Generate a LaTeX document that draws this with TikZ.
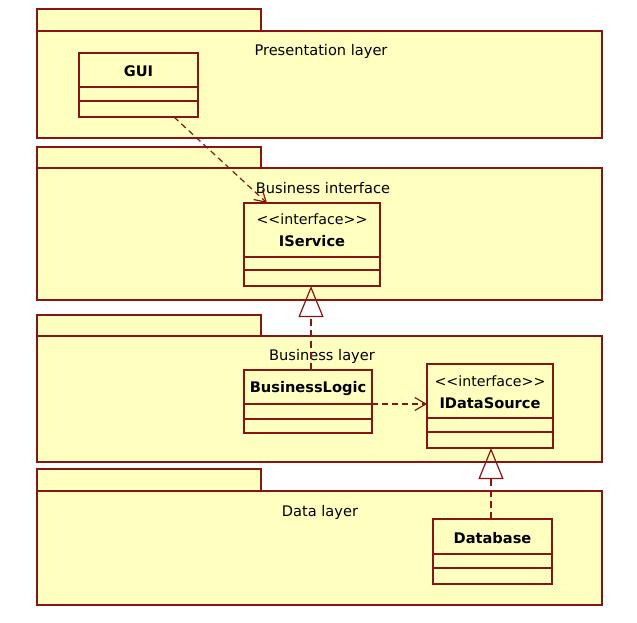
\documentclass[tikz,border=0pt]{standalone}
\usepackage{fontspec}
\setmainfont{DejaVu Sans}
\usetikzlibrary{arrows.meta}
\definecolor{umlline}{RGB}{136,20,20}
\definecolor{umlfill}{RGB}{255,255,192}
\begin{document}
\begin{tikzpicture}[x=1pt,y=-1pt,
  pkgpart/.style={draw=umlline, fill=umlfill, line width=1.2pt, inner sep=0pt, outer sep=0pt, anchor=north west},
  clsbox/.style={draw=umlline, fill=umlfill, line width=1.2pt, inner sep=0pt, outer sep=0pt, anchor=north west},
  sepline/.style={draw=umlline, line width=1.2pt},
  pkglabel/.style={font=\fontsize{14.6}{17}\selectfont, inner sep=0pt},
  clsname/.style={font=\fontsize{14.6}{17}\selectfont\bfseries, inner sep=0pt},
  stereo/.style={font=\fontsize{14.2}{17}\selectfont, inner sep=0pt},
  depend/.style={draw=umlline, line width=1.2pt, dash pattern=on 6pt off 4pt, -{Straight Barb[length=11pt,width=13pt,line width=1.2pt]}},
  realize/.style={draw=umlline, line width=1.2pt, dash pattern=on 7pt off 4pt, -{Triangle[open,length=31pt,width=25pt,line width=1.2pt]}}
]
\useasboundingbox (0,0) rectangle (637,622);
% packages
\node[pkgpart, minimum width=224pt, minimum height=22pt] (t1) at (37,9) {};
\node[pkgpart, minimum width=565pt, minimum height=107pt] (p1) at (37,31) {};
\node[pkgpart, minimum width=224pt, minimum height=21pt] (t2) at (37,147) {};
\node[pkgpart, minimum width=565pt, minimum height=132pt] (p2) at (37,168) {};
\node[pkgpart, minimum width=224pt, minimum height=21pt] (t3) at (37,315) {};
\node[pkgpart, minimum width=565pt, minimum height=126pt] (p3) at (37,336) {};
\node[pkgpart, minimum width=224pt, minimum height=22pt] (t4) at (37,469) {};
\node[pkgpart, minimum width=565pt, minimum height=114pt] (p4) at (37,491) {};
\node[pkglabel] (l1) at (321,51) {Presentation layer};
\node[pkglabel] (l2) at (323,188) {Business interface};
\node[pkglabel] (l3) at (322,356) {Business layer};
\node[pkglabel] (l4) at (320,512) {Data layer};
% classes
\node[clsbox, minimum width=119pt, minimum height=64pt] (gui) at (79,53) {};
\draw[sepline] (79,87) -- (198,87);
\draw[sepline] (79,101) -- (198,101);
\node[clsname] (guin) at (138.5,71) {GUI};

\node[clsbox, minimum width=136pt, minimum height=83pt] (isvc) at (244,203) {};
\draw[sepline] (244,257) -- (380,257);
\draw[sepline] (244,270) -- (380,270);
\node[stereo] (isvcs) at (312,219) {<{}<interface>{}>};
\node[clsname] (isvcn) at (312,241) {IService};

\node[clsbox, minimum width=128pt, minimum height=63pt] (bl) at (244,370) {};
\draw[sepline] (244,404) -- (372,404);
\draw[sepline] (244,419) -- (372,419);
\node[clsname] (bln) at (308,389) {BusinessLogic};

\node[clsbox, minimum width=126pt, minimum height=84pt] (ids) at (427,364) {};
\draw[sepline] (427,418) -- (553,418);
\draw[sepline] (427,432) -- (553,432);
\node[stereo] (idss) at (490,381) {<{}<interface>{}>};
\node[clsname] (idsn) at (490,403) {IDataSource};

\node[clsbox, minimum width=119pt, minimum height=65pt] (db) at (433,519) {};
\draw[sepline] (433,554) -- (552,554);
\draw[sepline] (433,568) -- (552,568);
\node[clsname] (dbn) at (492.5,538) {Database};
% connectors
\coordinate (guiout) at (174,117);
\coordinate (isvcin) at (267,203);
\draw[depend] (guiout) -- (isvcin);
\draw[realize] (bl.north -| 311,0) -- (isvc.south -| 311,0);
\draw[depend] (bl.east |- 0,404) -- (ids.west |- 0,404);
\draw[realize] (db.north -| 491,0) -- (ids.south -| 491,0);
\end{tikzpicture}
\end{document}
